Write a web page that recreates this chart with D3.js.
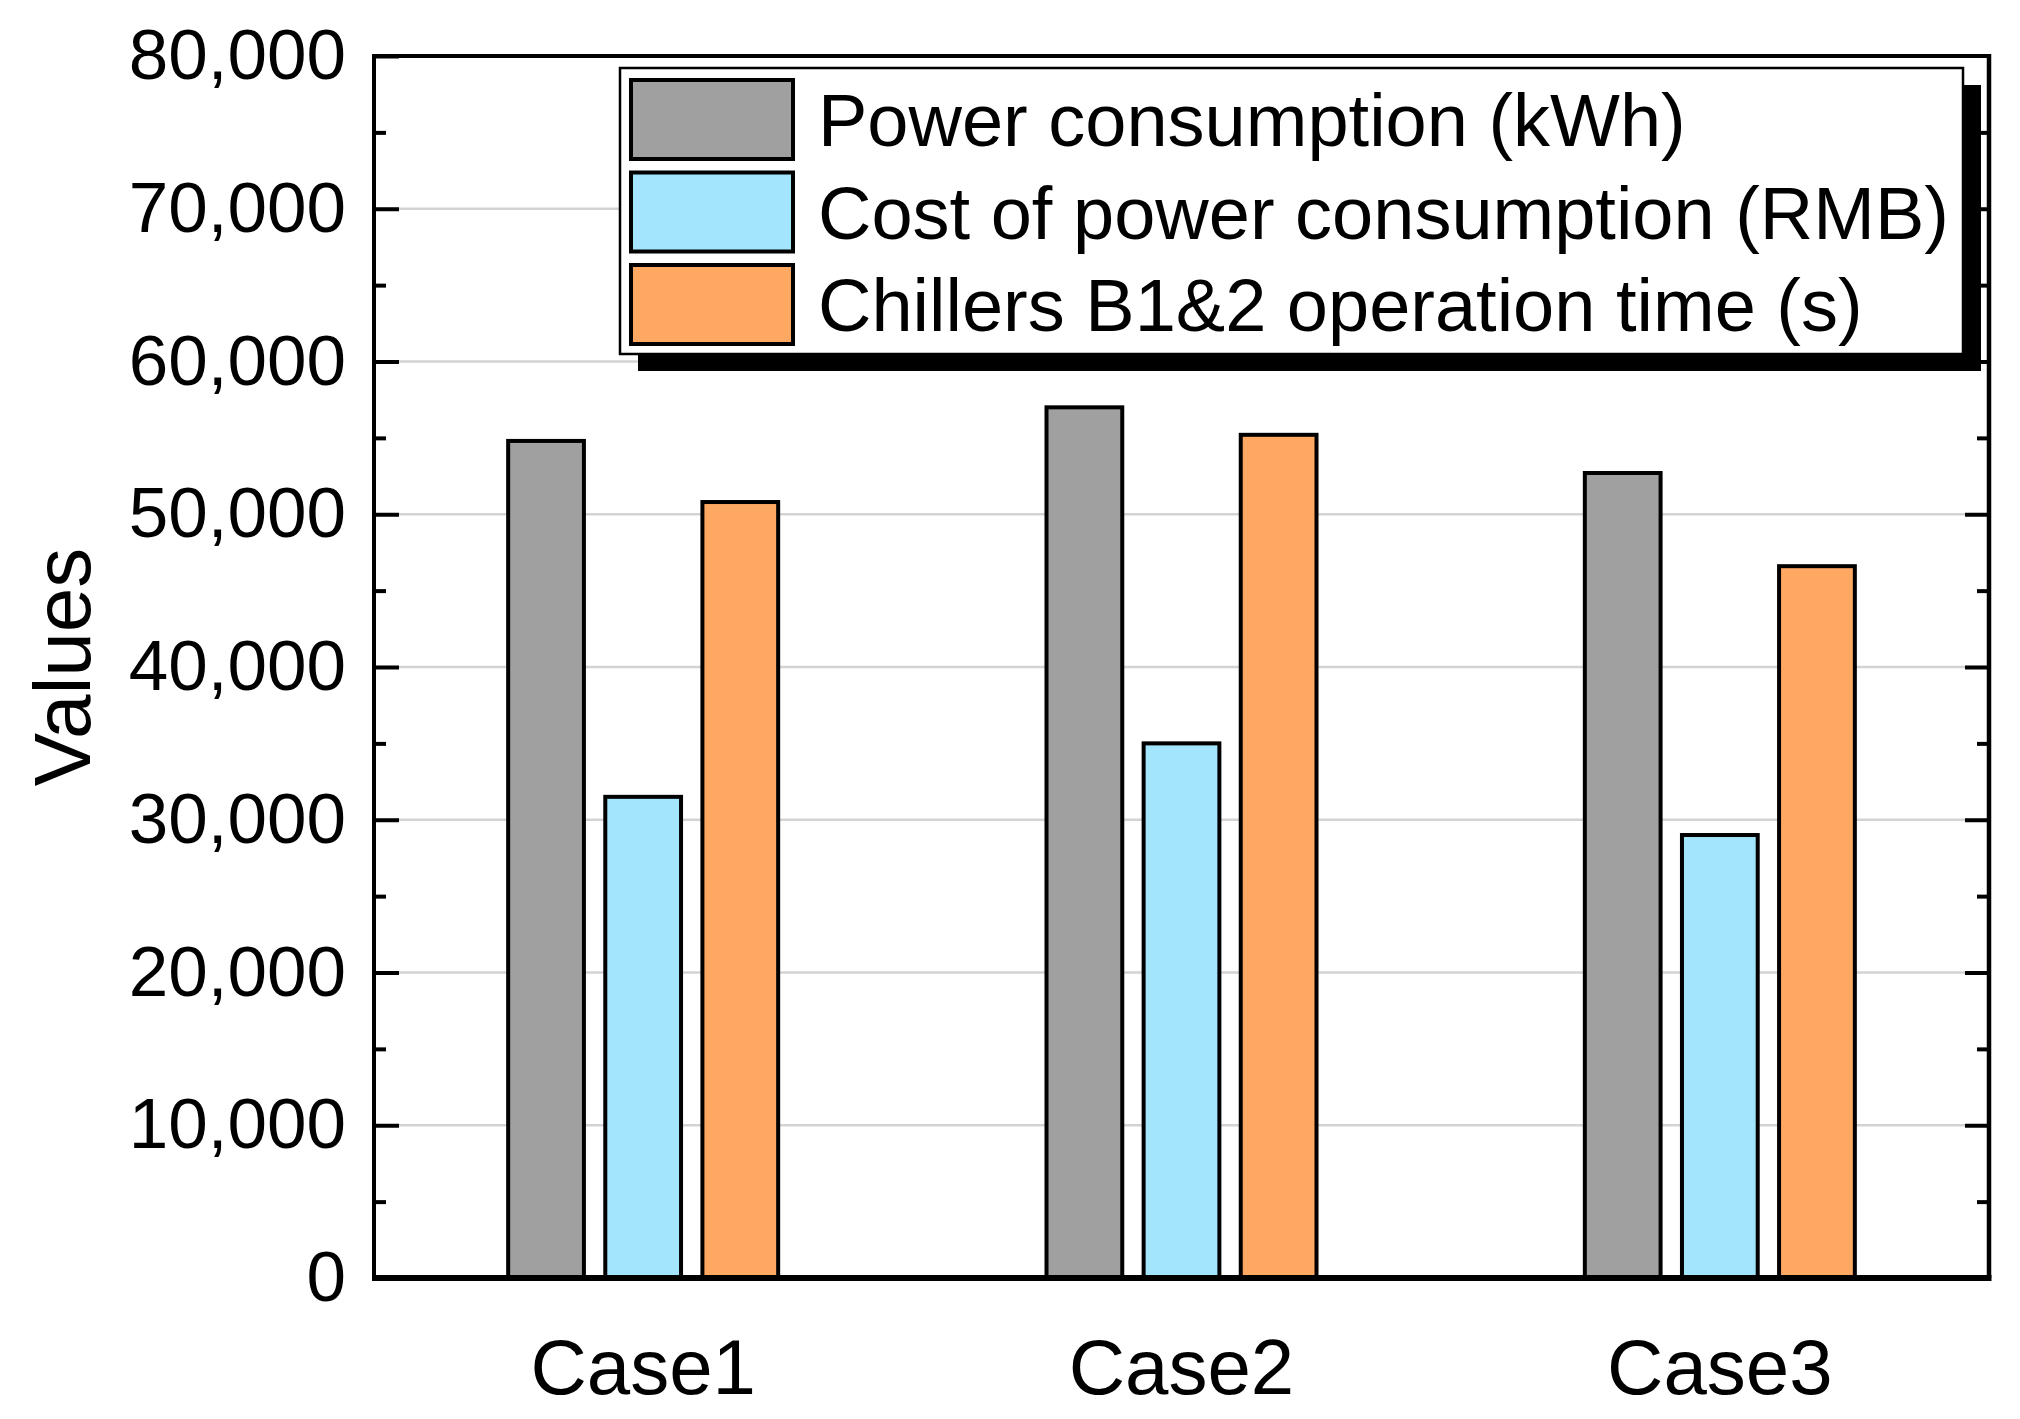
<!DOCTYPE html>
<html>
<head>
<meta charset="utf-8">
<script src="https://cdn.jsdelivr.net/npm/d3@7"></script>
<style>
  body { margin: 0; background: #fff; }
  svg text { font-family: "Liberation Sans", Arial, sans-serif; fill: #000; }
</style>
</head>
<body>
<div id="chart"></div>
<script>
const CASES = ["Case1", "Case2", "Case3"];
const SERIES = [
  "Power consumption (kWh)",
  "Cost of power consumption (RMB)",
  "Chillers B1&2 operation time (s)"
];
const POWER = [54800, 57000, 52700];
const COST = [31500, 35000, 29000];
const CHILLER_TIME = [50800, 55200, 46600];
const MAJOR_TICKS = [0, 10000, 20000, 30000, 40000, 50000, 60000, 70000, 80000];
const MINOR_TICKS = [5000, 15000, 25000, 35000, 45000, 55000, 65000, 75000];
const COLORS = ["#a0a0a0", "#a3e5fd", "#ffa862"];

const WIDTH = 2020;
const HEIGHT = 1419;
const LEFT = 374, RIGHT = 1989, TOP = 56, BOTTOM = 1278;

const values = [POWER, COST, CHILLER_TIME];
const data = CASES.map((c, i) => ({
  name: c,
  bars: SERIES.map((s, j) => ({ series: s, value: values[j][i] }))
}));

const svg = d3.select("#chart").append("svg")
  .attr("width", WIDTH)
  .attr("height", HEIGHT);

const x0 = d3.scaleBand().domain(CASES).range([LEFT, RIGHT]).padding(0);
const half = x0.bandwidth() / 2;
const x1 = d3.scaleBand().domain(SERIES)
  .range([half - 135, half + 135])
  .paddingInner(0.22);
const y = d3.scaleLinear().domain([0, 80000]).range([BOTTOM, TOP]);
const color = d3.scaleOrdinal().domain(SERIES).range(COLORS);

// grid lines
svg.append("g")
  .selectAll("line")
  .data(MAJOR_TICKS.filter(d => d > 0 && d < 80000))
  .join("line")
  .attr("x1", LEFT).attr("x2", RIGHT)
  .attr("y1", d => y(d)).attr("y2", d => y(d))
  .attr("stroke", "#d3d3d3")
  .attr("stroke-width", 2.5);

// bars
const group = svg.append("g")
  .selectAll("g")
  .data(data)
  .join("g")
  .attr("transform", d => `translate(${x0(d.name)},0)`);

group.selectAll("rect")
  .data(d => d.bars)
  .join("rect")
  .attr("x", d => x1(d.series))
  .attr("width", x1.bandwidth())
  .attr("y", d => y(d.value))
  .attr("height", d => y(0) - y(d.value))
  .attr("fill", d => color(d.series))
  .attr("stroke", "#000")
  .attr("stroke-width", 4);

// frame
svg.append("line").attr("x1", LEFT).attr("x2", RIGHT).attr("y1", TOP).attr("y2", TOP)
  .attr("stroke", "#000").attr("stroke-width", 4);
svg.append("line").attr("x1", RIGHT).attr("x2", RIGHT).attr("y1", TOP - 2).attr("y2", BOTTOM)
  .attr("stroke", "#000").attr("stroke-width", 4.5);

// left axis
const yAxis = svg.append("g")
  .attr("transform", `translate(${LEFT},0)`)
  .call(d3.axisLeft(y).tickValues(MAJOR_TICKS).tickSize(-25).tickPadding(28)
    .tickFormat(d3.format(",")));
yAxis.select(".domain").remove();
yAxis.selectAll(".tick line").attr("stroke-width", 4);
yAxis.selectAll(".tick text").attr("font-size", 71).attr("font-family", null);

svg.append("g")
  .attr("transform", `translate(${LEFT},0)`)
  .call(d3.axisLeft(y).tickValues(MINOR_TICKS).tickSize(-12).tickFormat(""))
  .call(g => g.select(".domain").remove())
  .selectAll(".tick line").attr("stroke-width", 4);

// right axis ticks
svg.append("g")
  .attr("transform", `translate(${RIGHT},0)`)
  .call(d3.axisRight(y).tickValues(MAJOR_TICKS.filter(d => d > 0 && d < 80000)).tickSize(-24).tickFormat(""))
  .call(g => g.select(".domain").remove())
  .selectAll(".tick line").attr("stroke-width", 4);
svg.append("g")
  .attr("transform", `translate(${RIGHT},0)`)
  .call(d3.axisRight(y).tickValues(MINOR_TICKS).tickSize(-12).tickFormat(""))
  .call(g => g.select(".domain").remove())
  .selectAll(".tick line").attr("stroke-width", 4);

svg.append("line").attr("x1", LEFT).attr("x2", LEFT).attr("y1", TOP - 2).attr("y2", BOTTOM)
  .attr("stroke", "#000").attr("stroke-width", 4);

// bottom axis
const xAxis = svg.append("g")
  .attr("transform", `translate(0,${BOTTOM})`)
  .call(d3.axisBottom(x0).tickSize(0));
xAxis.select(".domain").remove();
xAxis.selectAll(".tick text")
  .attr("y", 116).attr("dy", 0)
  .attr("font-size", 78).attr("font-family", null);
svg.append("line").attr("x1", LEFT - 2).attr("x2", RIGHT + 2.5).attr("y1", BOTTOM).attr("y2", BOTTOM)
  .attr("stroke", "#000").attr("stroke-width", 6);

// y title
svg.append("text")
  .attr("transform", `translate(90,${(TOP + BOTTOM) / 2}) rotate(-90)`)
  .attr("text-anchor", "middle")
  .attr("font-size", 80)
  .text("Values");

// legend
const LEG_X = 620, LEG_Y = 68, LEG_W = 1343, LEG_H = 286;
const legend = svg.append("g");
legend.append("rect")
  .attr("x", LEG_X + 18).attr("y", LEG_Y + 17)
  .attr("width", LEG_W).attr("height", LEG_H)
  .attr("fill", "#000");
legend.append("rect")
  .attr("x", LEG_X).attr("y", LEG_Y)
  .attr("width", LEG_W).attr("height", LEG_H)
  .attr("fill", "#fff").attr("stroke", "#000").attr("stroke-width", 2.5);
const item = legend.selectAll("g.item")
  .data(SERIES)
  .join("g")
  .attr("class", "item")
  .attr("transform", (d, i) => `translate(${LEG_X + 11},${LEG_Y + 12 + i * 92.5})`);
item.append("rect")
  .attr("width", 162).attr("height", 79)
  .attr("fill", d => color(d))
  .attr("stroke", "#000").attr("stroke-width", 4);
item.append("text")
  .attr("x", 187)
  .attr("y", 66)
  .attr("font-size", 74)
  .text(d => d);
</script>
</body>
</html>
